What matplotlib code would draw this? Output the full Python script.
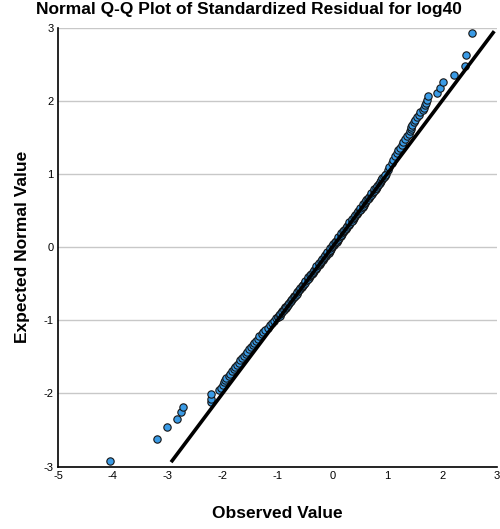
import matplotlib
matplotlib.use('Agg')
import matplotlib.pyplot as plt

plt.rcParams['font.family'] = ['Liberation Sans', 'DejaVu Sans']
plt.rcParams['axes.unicode_minus'] = False

# observed (standardized residual) vs expected normal value
observed = [
    -4.06, -3.19, -3.02, -2.84, -2.75, -2.73, -2.22, -2.22, -2.22,
    -2.06, -2.03, -2.00, -1.98, -1.95, -1.93, -1.89, -1.86, -1.83, -1.80,
    -1.77, -1.74, -1.71, -1.68, -1.64, -1.61, -1.58, -1.55, -1.52, -1.49,
    -1.45, -1.42, -1.39, -1.36, -1.33, -1.29, -1.26, -1.22, -1.18, -1.14,
    -1.10, -1.07,
    -1.03, -1.00, -0.97, -0.94, -0.91, -0.88, -0.86, -0.83, -0.80, -0.78,
    -0.75, -0.72, -0.70, -0.67, -0.64, -0.62, -0.59, -0.56, -0.54, -0.51,
    -0.49, -0.46, -0.43, -0.41, -0.38, -0.36, -0.33, -0.30, -0.28, -0.25,
    -0.23, -0.20, -0.17, -0.15, -0.12, -0.10, -0.07, -0.05, -0.02, 0.00,
    0.03, 0.05, 0.08, 0.10, 0.12, 0.15, 0.17, 0.20, 0.22, 0.25,
    0.27, 0.30, 0.32, 0.35, 0.37, 0.40, 0.42, 0.45, 0.47, 0.50,
    0.52, 0.55, 0.57, 0.60, 0.62, 0.64, 0.67, 0.69, 0.72, 0.74,
    0.77, 0.79, 0.81, 0.84, 0.86, 0.88, 0.91, 0.93, 0.95, 0.97,
    1.01, 1.04, 1.08, 1.11, 1.14, 1.17, 1.20, 1.23, 1.26, 1.29,
    1.32, 1.36, 1.39, 1.41, 1.43, 1.44, 1.46, 1.48, 1.50, 1.55,
    1.57, 1.60, 1.66, 1.67, 1.69, 1.70, 1.72, 1.75, 1.91, 1.97,
    2.02, 2.22, 2.41, 2.43, 2.54,
]
expected = [
    -2.93, -2.62, -2.46, -2.35, -2.26, -2.18, -2.12, -2.07, -2.01,
    -1.96, -1.92, -1.88, -1.85, -1.82, -1.79, -1.76, -1.73, -1.70, -1.67,
    -1.64, -1.61, -1.58, -1.55, -1.52, -1.49, -1.46, -1.43, -1.40, -1.37,
    -1.34, -1.31, -1.28, -1.25, -1.22, -1.19, -1.16, -1.13, -1.10, -1.07,
    -1.04, -1.01,
    -0.975, -0.95, -0.925, -0.90, -0.875, -0.85, -0.825, -0.80, -0.775, -0.75,
    -0.725, -0.70, -0.675, -0.65, -0.625, -0.60, -0.575, -0.55, -0.525, -0.50,
    -0.475, -0.45, -0.425, -0.40, -0.375, -0.35, -0.325, -0.30, -0.275, -0.25,
    -0.225, -0.20, -0.175, -0.15, -0.125, -0.10, -0.075, -0.05, -0.025, 0.00,
    0.025, 0.05, 0.075, 0.10, 0.125, 0.15, 0.175, 0.20, 0.225, 0.25,
    0.275, 0.30, 0.325, 0.35, 0.375, 0.40, 0.425, 0.45, 0.475, 0.50,
    0.525, 0.55, 0.575, 0.60, 0.625, 0.65, 0.675, 0.70, 0.725, 0.75,
    0.775, 0.80, 0.825, 0.85, 0.875, 0.90, 0.925, 0.95, 0.975, 1.00,
    1.05, 1.10, 1.15, 1.19, 1.24, 1.28, 1.32, 1.36, 1.40, 1.44,
    1.48, 1.52, 1.55, 1.58, 1.61, 1.64, 1.67, 1.71, 1.74, 1.78,
    1.81, 1.84, 1.87, 1.90, 1.94, 1.97, 2.01, 2.06, 2.11, 2.18,
    2.26, 2.35, 2.47, 2.63, 2.93,
]
# cases in between, where the middle of the plot is packed solid
observed_mid = [
    -1.00, -0.96, -0.95, -0.91, -0.89, -0.85, -0.84, -0.80, -0.79, -0.75,
    -0.74, -0.70, -0.69, -0.65, -0.64, -0.60, -0.59, -0.55, -0.54, -0.50,
    -0.49, -0.45, -0.44, -0.40, -0.39, -0.35, -0.34, -0.30, -0.29, -0.25,
    -0.24, -0.20, -0.19, -0.15, -0.14, -0.10, -0.09, -0.05, -0.04, 0.00,
    0.01, 0.05, 0.06, 0.10, 0.11, 0.15, 0.16, 0.20, 0.21, 0.25,
    0.26, 0.30, 0.31, 0.35, 0.36, 0.40, 0.41, 0.45, 0.46, 0.50,
    0.51, 0.55, 0.56, 0.60, 0.61, 0.65, 0.66, 0.70, 0.71, 0.75,
    0.76, 0.80, 0.81, 0.85, 0.86, 0.89, 0.90, 0.94, 0.95,
]
expected_mid = [
    -0.9625, -0.9375, -0.9125, -0.8875, -0.8625, -0.8375, -0.8125, -0.7875, -0.7625, -0.7375,
    -0.7125, -0.6875, -0.6625, -0.6375, -0.6125, -0.5875, -0.5625, -0.5375, -0.5125, -0.4875,
    -0.4625, -0.4375, -0.4125, -0.3875, -0.3625, -0.3375, -0.3125, -0.2875, -0.2625, -0.2375,
    -0.2125, -0.1875, -0.1625, -0.1375, -0.1125, -0.0875, -0.0625, -0.0375, -0.0125, 0.0125,
    0.0375, 0.0625, 0.0875, 0.1125, 0.1375, 0.1625, 0.1875, 0.2125, 0.2375, 0.2625,
    0.2875, 0.3125, 0.3375, 0.3625, 0.3875, 0.4125, 0.4375, 0.4625, 0.4875, 0.5125,
    0.5375, 0.5625, 0.5875, 0.6125, 0.6375, 0.6625, 0.6875, 0.7125, 0.7375, 0.7625,
    0.7875, 0.8125, 0.8375, 0.8625, 0.8875, 0.9125, 0.9375, 0.9625, 0.9875,
]
ref_line = [-2.92, 2.93]   # y = x reference line ends

x_ticks = [-5, -4, -3, -2, -1, 0, 1, 2, 3]
y_ticks = [-3, -2, -1, 0, 1, 2, 3]

fig = plt.figure(figsize=(5.0, 5.29), dpi=100)
ax = fig.add_axes([0.116, 0.118, 0.878, 0.830])

ax.scatter(observed + observed_mid, expected + expected_mid, s=28, c='#3a9be6',
           edgecolors='#151515', linewidths=0.8, zorder=3)
ax.plot(ref_line, ref_line, color='black', lw=2.6, zorder=4)

ax.set_xlim(-5, 3)
ax.set_ylim(-3, 3)
ax.set_xticks(x_ticks)
ax.set_yticks(y_ticks)
ax.tick_params(length=0, labelsize=8, pad=3)
ax.yaxis.grid(True, color='#c8c8c8', lw=1)
ax.set_axisbelow(True)
for s in ['top', 'right']:
    ax.spines[s].set_visible(False)
for s in ['left', 'bottom']:
    ax.spines[s].set_linewidth(1.2)

ax.set_xlabel('Observed Value', fontsize=12.5, fontweight='bold', labelpad=18)
ax.set_ylabel('Expected Normal Value', fontsize=12.5, fontweight='bold', labelpad=10)
fig.suptitle('Normal Q-Q Plot of Standardized Residual for log40', x=0.497, y=0.997,
             fontsize=12.5, fontweight='bold')

fig.savefig('out.png', dpi=100)
